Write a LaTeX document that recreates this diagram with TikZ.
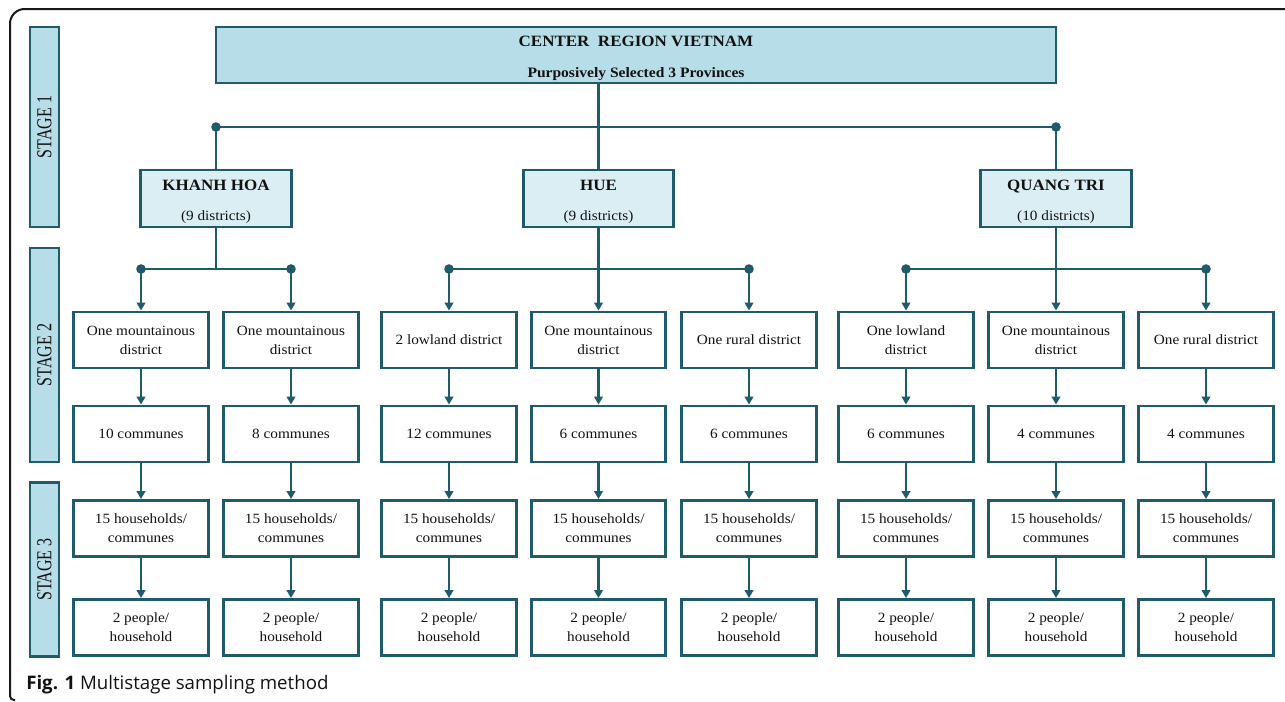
\documentclass[tikz,border=0pt]{standalone}
\usepackage{fontspec}
\setmainfont{Liberation Serif}[FakeStretch=1.08]
\newfontfamily\stagefont{Liberation Serif}[FakeStretch=0.75]
\newfontfamily\capfont{Open Sans}
\usetikzlibrary{arrows.meta}

\definecolor{linecol}{HTML}{1F5B6B}
\definecolor{stagecol}{HTML}{B7DDE8}
\definecolor{provcol}{HTML}{DBEEF4}
\definecolor{textcol}{HTML}{121212}
\definecolor{framecol}{HTML}{1A1A1A}

\tikzset{
  box/.style={draw=linecol, line width=2.2pt, fill=white, text=textcol,
    minimum width=101pt, minimum height=42pt, inner sep=0pt, align=center,
    font=\fontsize{10.6}{14.3}\selectfont},
  provbox/.style={box, fill=provcol, minimum width=113pt, minimum height=42.75pt},
  topbox/.style={box, fill=stagecol, minimum width=630pt},
  stagebar/.style={draw=linecol, fill=stagecol, line width=2.2pt, text=textcol,
    rotate=90, minimum height=21.75pt, inner sep=0pt,
    font=\stagefont\fontsize{16}{18}\selectfont},
  link/.style={draw=linecol, line width=2.2pt},
  arrow/.style={link, -{Triangle[length=6pt,width=6.5pt]}},
  dot/.style={fill=linecol}
}

\newcommand{\boldtitle}[1]{{\fontsize{11.8}{14}\selectfont\bfseries\rule{0pt}{13pt}#1}}

\begin{document}
\begin{tikzpicture}[x=0.75pt, y=-0.75pt]
  \useasboundingbox (0,0) rectangle (1285,701);

  % frame
  \draw [framecol, line width=1.5pt, rounded corners=11pt] (1290,9) -- (10,9) -- (10,695);
  \draw [framecol, line width=1.5pt, rounded corners=3pt] (10,694) -- (10,700) -- (15,700);

  % stages
  \node [stagebar, minimum width=150pt] (stage1) at (44.5,127) {STAGE 1};
  \node [stagebar, minimum width=160.5pt] (stage2) at (44.5,355) {STAGE 2};
  \node [stagebar, minimum width=130pt] (stage3) at (44.5,569.5) {STAGE 3};

  % region and provinces
  \node [topbox] (region) at (636,55)
    {\boldtitle{CENTER~ REGION VIETNAM}\\[9pt]{\fontsize{10.8}{12}\selectfont\bfseries Purposively Selected 3 Provinces}};
  \node [provbox] (kh) at (216,198.5) {\boldtitle{KHANH HOA}\\[8pt](9 districts)};
  \node [provbox] (hue) at (598.5,198.5) {\boldtitle{HUE}\\[8pt](9 districts)};
  \node [provbox] (qt) at (1056,198.5) {\boldtitle{QUANG TRI}\\[8pt](10 districts)};

  % districts
  \foreach \i/\cx/\txt in {1/141/{One mountainous\\district}, 2/291/{One mountainous\\district},
      3/449/{2 lowland district}, 4/598.5/{One mountainous\\district}, 5/749/{One rural district},
      6/906/{One lowland\\district}, 7/1056/{One mountainous\\district}, 8/1206/{One rural district}}
    \node [box] (dist\i) at (\cx,340) {\txt};

  % communes
  \foreach \i/\cx/\n in {1/141/10, 2/291/8, 3/449/12, 4/598.5/6, 5/749/6, 6/906/6, 7/1056/4, 8/1206/4}
    \node [box] (comm\i) at (\cx,434) {\n\ communes};

  % households and people
  \foreach \i/\cx in {1/141, 2/291, 3/449, 4/598.5, 5/749, 6/906, 7/1056, 8/1206} {
    \node [box] (hh\i) at (\cx,528.5) {15 households/\\communes};
    \node [box] (ppl\i) at (\cx,627.5) {2 people/\\household};
    \draw [arrow] (dist\i.south) -- (comm\i.north);
    \draw [arrow] (comm\i.south) -- (hh\i.north);
    \draw [arrow] (hh\i.south) -- (ppl\i.north);
  }

  % stage 1 links
  \coordinate (j0l) at (216,127);
  \coordinate (j0r) at (1056,127);
  \draw [link] (hue.north) -- (hue.north |- region.south);
  \draw [link] (j0l) -- (j0r);
  \draw [link] (j0l) -- (kh.north);
  \draw [link] (j0r) -- (qt.north);
  \fill [dot] (j0l) circle [radius=3.6pt] (j0r) circle [radius=3.6pt];

  % stage 2 links
  \coordinate (j1l) at (141,269);
  \coordinate (j1r) at (291,269);
  \coordinate (j2l) at (449,269);
  \coordinate (j2r) at (749,269);
  \coordinate (j3l) at (906,269);
  \coordinate (j3r) at (1206,269);
  \draw [link] (kh.south) -- (kh.south |- j1l);
  \draw [link] (j1l) -- (j1r);
  \draw [arrow] (j1l) -- (dist1.north);
  \draw [arrow] (j1r) -- (dist2.north);
  \draw [link] (j2l) -- (j2r);
  \draw [arrow] (hue.south) -- (dist4.north);
  \draw [arrow] (j2l) -- (dist3.north);
  \draw [arrow] (j2r) -- (dist5.north);
  \draw [link] (j3l) -- (j3r);
  \draw [arrow] (qt.south) -- (dist7.north);
  \draw [arrow] (j3l) -- (dist6.north);
  \draw [arrow] (j3r) -- (dist8.north);
  \foreach \j in {j1l, j1r, j2l, j2r, j3l, j3r}
    \fill [dot] (\j) circle [radius=3.6pt];

  % caption
  \node [anchor=base west, inner sep=0pt, text=textcol, font=\capfont\fontsize{14}{17}\selectfont] (caption) at (26,689)
    {\textbf{Fig. 1} Multistage sampling method};
\end{tikzpicture}
\end{document}
